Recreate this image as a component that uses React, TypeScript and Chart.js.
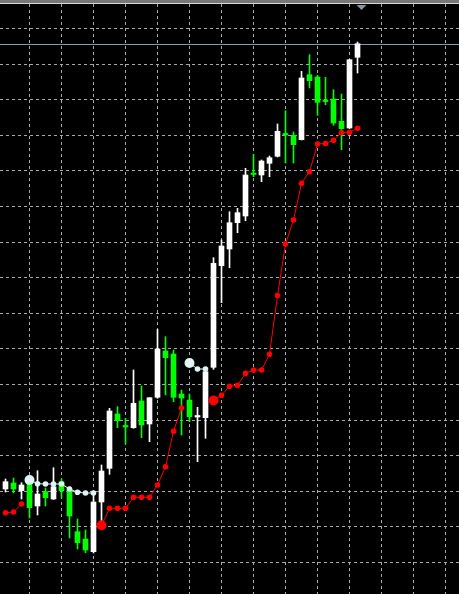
import React, { useEffect, useRef } from 'react';
import { Chart, registerables } from 'chart.js';

Chart.register(...registerables);

// OHLC per bar (price points)
const opens = [111, 117, 109.3, 117.3, 94, 108.3, 101, 118.3, 111, 68.3, 61, 48.3, 98, 131.7, 186, 173.5, 172.3, 199, 176, 202.7, 249, 246, 206, 200, 183, 182.3, 232.7, 334.3, 351, 377.3, 384, 426, 425, 436.7, 443.7, 465.7, 464.7, 460.3, 525.3, 523, 499, 501, 478.7, 472, 542.7];
const highs = [121, 122, 117.3, 123, 129.3, 112, 132.3, 121, 113.3, 81, 70, 107, 135, 191.7, 193.3, 181.7, 230, 214, 202.3, 270.7, 263.3, 250, 210, 206, 192.7, 231.7, 342.3, 360, 388.3, 391.7, 431.7, 445.7, 440, 444, 476, 489.3, 468, 528.7, 545.3, 524.7, 522.7, 510.3, 506, 540.3, 558];
const lows = [108, 107, 101, 82, 85, 94, 100.5, 102, 62, 51, 47.3, 47, 72, 125.7, 172.3, 156, 171.7, 162.3, 158.3, 201.7, 205, 198.3, 165, 178.3, 138.3, 161.7, 230.7, 297.3, 332.3, 367.3, 379.3, 423.3, 418.3, 423.3, 443, 437, 437, 460, 512, 484.7, 495.3, 474.7, 450.3, 471.5, 527];
const closes = [118.3, 111, 115, 92.3, 106, 102.3, 113.3, 109.3, 84, 57.3, 50, 98, 129, 189, 179.3, 173, 196.7, 175, 202.3, 251, 242.3, 202.7, 202, 183.3, 183.5, 228.3, 336.7, 354, 377.3, 387.3, 425, 425.5, 439, 442.3, 468.7, 465, 455.3, 522, 519.3, 497.7, 498.5, 477, 471.3, 540.3, 556.3];

// Parabolic SAR: below price (red) and above price (light cyan)
const sarBelow = [87.3, 88, 96, null, null, null, null, null, null, null, null, null, 74.7, 91.7, 91.7, 91.7, 102.7, 102.7, 102.7, 115, 133.3, 168.7, 192, null, null, null, 199.5, 204.7, 213.7, 214.7, 226.7, 230, 230, 245.7, 304.5, 356, 380, 416.7, 428.3, 456, 456.5, 459.7, 467.5, 467.7, 471.8];
const sarAbove = [null, null, null, 120, 116.3, 116, 116, 116, 111, 107.7, 107, 107, null, null, null, null, null, null, null, null, null, null, null, 237, 231, 231, null, null, null, null, null, null, null, null, null, null, null, null, null, null, null, null, null, null, null];

// Grid positions
const gridBars = [3, 7, 11, 15, 19, 23, 27, 31, 35, 39, 43, 47, 51, 55];
const gridPrices = [571.5, 535.9, 500.3, 464.7, 429.1, 393.5, 357.9, 322.3, 286.7, 251.1, 215.5, 179.9, 144.3, 108.7, 73.1, 37.5];

const BULL = '#ffffff';
const BEAR = '#00ff00';
const GRID = '#a2a9b3';
const SAR_RED = '#ff0000';
const SAR_WHITE = '#dff4f4';

export default function App() {
  const ref = useRef<HTMLCanvasElement | null>(null);

  useEffect(() => {
    if (!ref.current) return;
    const colors = opens.map((o, i) => (closes[i] >= o ? BULL : BEAR));
    const sarData = (arr: (number | null)[]) => arr.map((v, i) => ({ x: i, y: v }));
    const radii = (arr: (number | null)[]) =>
      arr.map((v, i) => (v === null ? 0 : i > 0 && arr[i - 1] === null ? 5 : 2.8));

    const decor = {
      id: 'decor',
      beforeDatasetsDraw(chart: any) {
        const ctx = chart.ctx;
        const xs = chart.scales.x;
        const ys = chart.scales.y;
        ctx.save();
        ctx.strokeStyle = GRID;
        ctx.lineWidth = 1;
        ctx.setLineDash([3, 3]);
        gridBars.forEach((b) => {
          const px = Math.round(xs.getPixelForValue(b) - 0.5) + 0.5;
          ctx.beginPath();
          ctx.moveTo(px, 4);
          ctx.lineTo(px, chart.height);
          ctx.stroke();
        });
        gridPrices.forEach((p) => {
          const py = Math.round(ys.getPixelForValue(p) - 0.5) + 0.5;
          ctx.beginPath();
          ctx.moveTo(0, py);
          ctx.lineTo(chart.width, py);
          ctx.stroke();
        });
        ctx.setLineDash([]);
        const by = ys.getPixelForValue(closes[closes.length - 1]);
        ctx.strokeStyle = '#8c9aab';
        ctx.beginPath();
        ctx.moveTo(0, Math.round(by) + 0.5);
        ctx.lineTo(chart.width, Math.round(by) + 0.5);
        ctx.stroke();
        ctx.restore();
      },
      afterDraw(chart: any) {
        const ctx = chart.ctx;
        ctx.save();
        ctx.fillStyle = '#777777';
        ctx.fillRect(0, 0, chart.width, 3);
        ctx.fillStyle = '#d8d8d8';
        ctx.fillRect(0, 3, chart.width, 1);
        const sx = chart.scales.x.getPixelForValue(44.5);
        ctx.fillStyle = '#8896a6';
        ctx.beginPath();
        ctx.moveTo(sx - 5, 5);
        ctx.lineTo(sx + 5, 5);
        ctx.lineTo(sx, 10);
        ctx.closePath();
        ctx.fill();
        ctx.restore();
      },
    };

    const chart = new Chart(ref.current, {
      type: 'bar',
      data: {
        datasets: [
          {
            type: 'line',
            data: sarData(sarBelow),
            borderColor: SAR_RED,
            backgroundColor: SAR_RED,
            pointBackgroundColor: SAR_RED,
            pointBorderWidth: 0,
            pointRadius: radii(sarBelow),
            borderWidth: 1,
            spanGaps: false,
            order: 1,
          } as any,
          {
            type: 'line',
            data: sarData(sarAbove),
            borderColor: SAR_WHITE,
            backgroundColor: SAR_WHITE,
            pointBackgroundColor: SAR_WHITE,
            pointBorderWidth: 0,
            pointRadius: radii(sarAbove),
            borderWidth: 1,
            spanGaps: false,
            order: 1,
          } as any,
          {
            type: 'bar',
            data: opens.map((o, i) => ({ x: i, y: [o, closes[i]] })),
            backgroundColor: colors,
            borderWidth: 0,
            barThickness: 5,
            minBarLength: 1.5,
            grouped: false,
            order: 2,
          } as any,
          {
            type: 'bar',
            data: lows.map((l, i) => ({ x: i, y: [l, highs[i]] })),
            backgroundColor: colors,
            borderWidth: 0,
            barThickness: 1,
            grouped: false,
            order: 3,
          } as any,
        ],
      },
      options: {
        animation: false,
        responsive: false,
        events: [],
        layout: { padding: 0, autoPadding: false },
        plugins: { legend: { display: false }, tooltip: { enabled: false } },
        scales: {
          x: { type: 'linear', display: false, min: -0.6875, max: 56.6875, offset: false },
          y: { type: 'linear', display: false, min: 6, max: 600 },
        },
      } as any,
      plugins: [decor],
    });
    return () => chart.destroy();
  }, []);

  return (
    <div style={{ position: 'absolute', left: 0, top: 0, width: 459, height: 594, background: '#000' }}>
      <canvas ref={ref} width={459} height={594} style={{ display: 'block', background: '#000' }} />
    </div>
  );
}
